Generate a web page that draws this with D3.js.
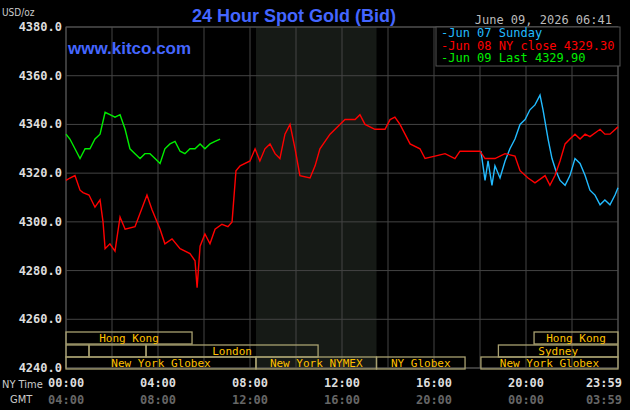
<!DOCTYPE html><html><head><script src="https://cdn.jsdelivr.net/npm/d3@7"></script>
<style>body{margin:0;background:#000}</style></head><body><script>
const redH=[0,.17,.39,.61,.74,1,1.26,1.48,1.61,1.7,1.91,2.13,2.35,2.57,3,3.52,3.74,4.09,4.3,4.61,4.96,5.39,5.61,5.7,5.83,6.04,6.26,6.48,6.78,7.04,7.22,7.39,7.57,8,8.22,8.43,8.65,8.87,9.09,9.3,9.52,9.74,9.96,10.17,10.61,10.83,11.04,11.48,11.91,12.13,12.57,12.78,13,13.43,13.87,14.09,14.3,14.52,14.74,14.96,15.39,15.61,16.04,16.48,16.91,17.13,17.57,18,18.22,18.65,19.09,19.52,19.74,20.09,20.39,20.83,21.04,21.26,21.48,21.7,21.91,22.13,22.35,22.57,22.78,23.22,23.43,23.65,24];
const redV=[4317,4318,4319,4313,4312,4311,4306,4309,4300,4289,4291,4288,4302,4297,4298,4311,4305,4297,4291,4293,4289,4287,4284,4273,4290,4295,4291,4297,4299,4298,4300,4321,4323,4325,4330,4325,4330,4332,4328,4326,4336,4340,4330,4319,4318,4323,4330,4336,4340,4342,4342,4344,4340,4338,4338,4342,4343,4340,4336,4332,4330,4326,4327,4328,4326,4329,4329,4329,4326,4326,4328,4327,4321,4318,4316,4319,4315,4319,4325,4332,4334,4336,4334,4336,4335,4338,4336,4336,4339];
const blueH=[18.04,18.22,18.35,18.52,18.65,18.87,19.09,19.3,19.52,19.74,19.96,20.17,20.39,20.61,20.74,20.96,21.13,21.3,21.48,21.7,21.91,22.13,22.35,22.57,22.78,23,23.22,23.43,23.65,23.87,24];
const blueV=[4329,4317,4325,4315,4323,4318,4325,4330,4334,4340,4342,4346,4348,4352,4346,4334,4326,4321,4317,4315,4319,4326,4324,4319,4313,4311,4307,4309,4307,4311,4314];
const greenH=[0,.17,.39,.61,.83,1.04,1.26,1.48,1.7,1.91,2.13,2.35,2.57,2.78,3,3.22,3.43,3.65,3.87,4.09,4.3,4.52,4.74,4.96,5.17,5.39,5.61,5.83,6.04,6.26,6.48,6.7];
const greenV=[4336,4334,4330,4326,4330,4330,4334,4336,4345,4344,4343,4344,4338,4330,4328,4326,4328,4328,4326,4324,4330,4332,4333,4329,4328,4330,4330,4332,4330,4332,4333,4334];
const yTicks=[4240,4260,4280,4300,4320,4340,4360,4380];
const nyLabels=["00:00","04:00","08:00","12:00","16:00","20:00","23:59"];
const gmtLabels=["04:00","08:00","12:00","16:00","20:00","00:00","03:59"];
const labelHours=[0,4,8,12,16,20,24];
const legendText=["Jun 07 Sunday","Jun 08 NY close 4329.30","Jun 09 Last 4329.90"];
const sessions=[[0,0,5.48,"Hong Kong"],[0,20.35,24,"Hong Kong"],[1,0,1,""],[1,1,3.48,""],[1,3.48,10.96,"London"],[1,18.8,24,"Sydney"],[2,0,8.26,"New York Globex"],[2,8.26,13.5,"New York NYMEX"],[2,13.5,17.35,"NY Globex"],[2,18.04,24,"New York Globex"]];
const W=630,H=410,L=66,R=618,T=27,B=368;
const svg=d3.select("body").append("svg").attr("width",W).attr("height",H).style("background","#000");
const x=d3.scaleLinear().domain([0,24]).range([L,R]);
const y=d3.scaleLinear().domain([4240,4380]).range([B,T]);
const mono="'DejaVu Sans Mono',monospace";
svg.append("rect").attr("x",x(8.26)).attr("y",T).attr("width",x(13.5)-x(8.26)).attr("height",B-T).attr("fill","#161a16");
const g=svg.append("g").attr("stroke","#444").attr("stroke-width",1);
d3.range(0,25,2).forEach(h=>g.append("line").attr("x1",x(h)).attr("x2",x(h)).attr("y1",T).attr("y2",B));
yTicks.forEach(v=>g.append("line").attr("x1",L).attr("x2",R).attr("y1",y(v)).attr("y2",y(v)));
svg.append("rect").attr("x",L).attr("y",T).attr("width",R-L).attr("height",B-T).attr("fill","none").attr("stroke","#555");
yTicks.forEach(v=>svg.append("text").attr("x",62).attr("y",y(v)+4).attr("text-anchor","end").attr("fill","#ddd").attr("font-family",mono).attr("font-size",12).attr("font-weight","bold").text(v.toFixed(1)));
const rowY=[332,345,357];
sessions.forEach(s=>{const x0=x(s[1]),x1=x(s[2]);
 svg.append("rect").attr("x",x0).attr("y",rowY[s[0]]).attr("width",x1-x0).attr("height",12).attr("fill","none").attr("stroke","#a8a070").attr("stroke-width",1.3);
 if(s[3])svg.append("text").attr("x",(x0+x1)/2).attr("y",rowY[s[0]]+10).attr("text-anchor","middle").attr("fill","#ffc000").attr("font-family",mono).attr("font-size",11).text(s[3]);});
const line=d3.line().x(d=>x(d[0])).y(d=>y(d[1]));
[[blueH,blueV,"#22bbff"],[redH,redV,"#ff0000"],[greenH,greenV,"#00ee00"]].forEach(([h,v,c])=>
 svg.append("path").attr("d",line(h.map((t,i)=>[t,v[i]]))).attr("fill","none").attr("stroke",c).attr("stroke-width",1.4));
labelHours.forEach((h,i)=>{const xx=i==0?x(h)-18:i==6?x(h)+4:x(h);const anc=i==0?"start":i==6?"end":"middle";
 svg.append("text").attr("x",xx).attr("y",387).attr("text-anchor",anc).attr("fill","#ddd").attr("font-family",mono).attr("font-weight","bold").attr("font-size",12).text(nyLabels[i]);
 svg.append("text").attr("x",xx).attr("y",404).attr("text-anchor",anc).attr("fill","#666").attr("font-family",mono).attr("font-weight","bold").attr("font-size",12).text(gmtLabels[i]);});
svg.append("text").attr("x",2).attr("y",388).attr("fill","#ccc").attr("font-family","'DejaVu Sans Condensed',sans-serif").attr("font-size",11).text("NY Time");
svg.append("text").attr("x",10).attr("y",403).attr("fill","#ccc").attr("font-family","'DejaVu Sans Condensed',sans-serif").attr("font-size",11).text("GMT");
svg.append("text").attr("x",2).attr("y",16).attr("fill","#ccc").attr("font-family","'DejaVu Sans Condensed',sans-serif").attr("font-size",10).text("USD/oz");
svg.append("text").attr("x",294).attr("y",22).attr("text-anchor","middle").attr("fill","#4466ff").attr("font-family","'Liberation Sans',Arial,sans-serif").attr("font-weight","bold").attr("font-size",18).text("24 Hour Spot Gold (Bid)");
svg.append("text").attr("x",68).attr("y",54).attr("fill","#4466ff").attr("font-family","'Liberation Sans',Arial,sans-serif").attr("font-weight","bold").attr("font-size",17).text("www.kitco.com");
svg.append("text").attr("x",612).attr("y",24).attr("text-anchor","end").attr("fill","#bbb").attr("font-family",mono).attr("font-size",12).text("June 09, 2026 06:41");
svg.append("rect").attr("x",436).attr("y",27).attr("width",184).attr("height",39).attr("fill","#000").attr("stroke","#555");
const lc=["#22bbff","#ff0000","#00ee00"];
legendText.forEach((t,i)=>svg.append("text").attr("x",441).attr("y",37+i*12.5).attr("fill",lc[i]).attr("font-family",mono).attr("font-size",12).text("-"+t));
</script></body></html>
